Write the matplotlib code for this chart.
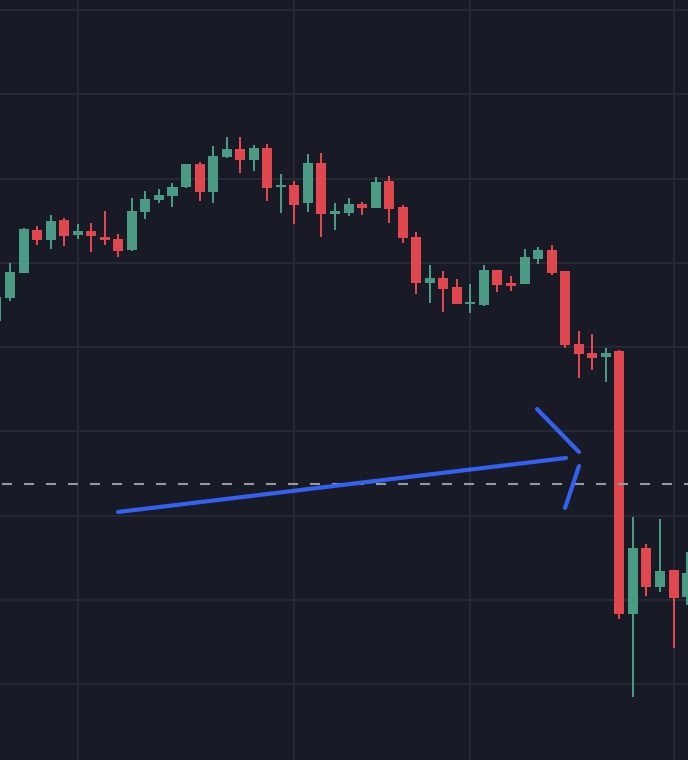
"""Dark candlestick chart with a hand-drawn arrow pointing at the breakdown."""

import matplotlib
matplotlib.use("Agg")
import matplotlib.pyplot as plt
from matplotlib.ticker import MultipleLocator, FixedLocator

BG = "#181b26"
GRID = "#262a35"
C_UP = "#4a9a84"
C_DOWN = "#e0474f"
C_LEVEL = "#9598a1"
C_ARROW = "#3461f0"

# bar index, then OHLC (arbitrary price units)
idx = list(range(-1, 51))
opens = [439, 462, 487, 530, 520, 540, 525, 529, 523, 521, 510, 548, 560, 564,
         573, 596, 568, 603, 611, 600, 612, 573, 575, 557, 597, 546, 547, 556,
         552, 579, 553, 523, 477, 482, 473, 456, 455, 490, 477, 476, 501, 510,
         489, 416, 407, 403, 409, 146, 212, 173, 190, 163]
highs = [465, 497, 532, 534, 545, 542, 536, 537, 549, 526, 562, 569, 571, 577,
         596, 598, 614, 623, 623, 615, 616, 586, 579, 606, 607, 557, 562, 558,
         583, 584, 555, 528, 495, 489, 481, 476, 495, 490, 484, 511, 513, 515,
         489, 429, 426, 412, 410, 243, 216, 241, 190, 208]
lows = [437, 459, 487, 515, 511, 514, 521, 508, 515, 503, 509, 541, 557, 553,
        572, 559, 557, 602, 587, 589, 559, 547, 536, 548, 523, 530, 544, 545,
        552, 537, 517, 466, 457, 448, 456, 447, 454, 468, 469, 476, 496, 485,
        412, 382, 390, 378, 141, 63, 164, 168, 112, 155]
closes = [463, 488, 531, 520, 539, 524, 529, 524, 520, 509, 549, 561, 565, 573,
          596, 568, 604, 611, 600, 612, 572, 575, 555, 597, 546, 549, 556, 552,
          578, 551, 522, 477, 482, 471, 456, 458, 490, 475, 474, 503, 510, 487,
          415, 406, 402, 407, 146, 212, 173, 189, 162, 187]

level = 276
grid_bars = [5, 21, 34, 49]

# arrow strokes: (x0, y0, x1, y1) in bar index / price
arrow_shaft = (7.98, 248, 41.06, 302)
arrow_head_top = (38.92, 351, 42.02, 308)
arrow_head_low = (42.02, 294, 40.99, 252)

fig = plt.figure(figsize=(6.88, 7.6), dpi=100)
fig.patch.set_facecolor(BG)
ax = fig.add_axes([0, 0, 1, 1])
ax.set_facecolor(BG)

for i, o, h, l, c in zip(idx, opens, highs, lows, closes):
    col = C_UP if c >= o else C_DOWN
    ax.vlines(i, l, h, color=col, lw=1.45, zorder=3)
    body = max(abs(c - o), 1.5)
    ax.bar(i, body, bottom=min(o, c), width=0.74, color=col, lw=0, zorder=4)

ax.axhline(level, color=C_LEVEL, lw=1.5, ls=(9.6, (4.8, 5.76)), zorder=5)

for seg in (arrow_shaft, arrow_head_top, arrow_head_low):
    ax.plot([seg[0], seg[2]], [seg[1], seg[3]], color=C_ARROW, lw=3.0,
            solid_capstyle="round", zorder=6)

ax.set_xlim(-0.739, 50.07)
ax.set_ylim(0, 760)
ax.xaxis.set_major_locator(FixedLocator(grid_bars))
ax.yaxis.set_major_locator(MultipleLocator(84.25, offset=76))
ax.grid(True, color=GRID, lw=1.4, zorder=0)
ax.set_axisbelow(True)
ax.tick_params(length=0, labelbottom=False, labelleft=False)
for s in ax.spines.values():
    s.set_visible(False)

fig.savefig("out.png", dpi=100, facecolor=BG)
